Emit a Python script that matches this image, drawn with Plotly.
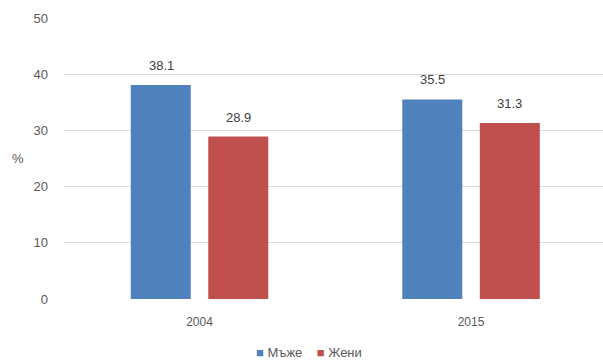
import plotly.graph_objects as go

years = ["2004", "2015"]
men = [38.1, 35.5]
women = [28.9, 31.3]
series_names = ["Мъже", "Жени"]
colors = ["#4F81BD", "#C0504D"]

font_family = "Liberation Sans, Arial, sans-serif"
tick_color = "#595959"
label_color = "#404040"

fig = go.Figure()
for name, vals, col in zip(series_names, [men, women], colors):
    fig.add_trace(go.Bar(x=years, y=vals, name=name, marker_color=col,
                         marker_line_width=0, showlegend=False))

# value labels above bars (category axis: annotation x is the category index)
annotations = []
for vals, shift in zip([men, women], [-38.5, 38.5]):
    for i, v in enumerate(vals):
        annotations.append(dict(x=i, y=v, xref="x", yref="y", text=f"{v:.1f}",
                                showarrow=False, xshift=shift, yshift=10, yanchor="bottom",
                                font=dict(size=13, color=label_color)))

nb = "\u00a0"
legend_text = (nb * 4).join(f"<span style='color:{c}'>■</span>{nb}{n}" for n, c in zip(series_names, colors))

annotations += [
    dict(text="%", xref="paper", yref="paper", x=-0.085, y=0.50, xanchor="center",
         yanchor="middle", showarrow=False, font=dict(size=13, color=tick_color)),
    dict(text=legend_text, xref="paper", yref="paper", x=0.455, y=-0.192,
         xanchor="center", yanchor="middle", showarrow=False, borderpad=0,
         font=dict(size=13, color=tick_color)),
]

fig.update_layout(
    width=603, height=362,
    margin=dict(l=64, r=0, t=18, b=63, autoexpand=False),
    paper_bgcolor="white", plot_bgcolor="white",
    barmode="group", bargap=0.429, bargroupgap=0.226,
    font=dict(family=font_family, size=12, color=tick_color),
    showlegend=False,
    xaxis=dict(type="category", showline=False, ticks="", ticklabelstandoff=14,
               range=[-0.499, 1.486], tickfont=dict(size=12, color=tick_color)),
    yaxis=dict(range=[0, 50], dtick=10, showgrid=True, gridcolor="#d9d9d9", gridwidth=1,
               zeroline=False, ticks="", ticklabelstandoff=15,
               tickfont=dict(size=13, color=tick_color)),
    annotations=annotations,
)
fig.write_html("out.html")
